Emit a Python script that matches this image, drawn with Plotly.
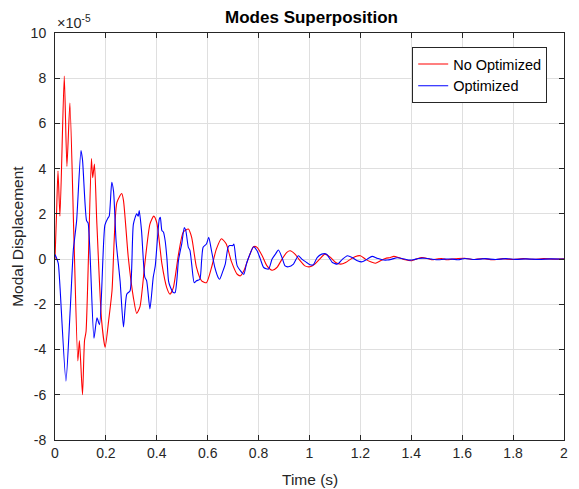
import plotly.graph_objects as go

# Values (displacement in units of 1e-5)
t_no_opt = [0.000, 0.006, 0.0117, 0.0195, 0.0364, 0.0468, 0.0585, 0.074, 0.0897, 0.096,
            0.108, 0.116, 0.122, 0.143, 0.148, 0.155, 0.164, 0.183, 0.197, 0.211,
            0.224, 0.243, 0.262, 0.269, 0.288, 0.308, 0.321, 0.334, 0.353, 0.373,
            0.388, 0.400, 0.420, 0.439, 0.452, 0.465, 0.485, 0.504, 0.524, 0.537,
            0.556, 0.576, 0.595, 0.615, 0.634, 0.654, 0.673, 0.693, 0.716, 0.729,
            0.742, 0.761, 0.780, 0.794, 0.814, 0.833, 0.853, 0.872, 0.892, 0.911,
            0.924, 0.943, 0.963, 0.982, 1.002, 1.021, 1.040, 1.060, 1.080, 1.103,
            1.123, 1.142, 1.162, 1.181, 1.200, 1.220, 1.240, 1.259, 1.279, 1.298,
            1.318, 1.331, 1.350, 1.376, 1.402, 1.420, 1.441, 1.460, 1.480, 1.500,
            1.519, 1.540, 1.560, 1.584, 1.610, 1.640, 1.680, 1.720, 1.760, 1.800,
            1.840, 1.880, 1.920, 1.960, 2.000]
y_no_opt = [0.0, 2.0, 3.9, 1.9, 8.1, 4.1, 6.9, 1.1, -4.5, -3.6,
            -6.0, -3.6, -3.2, 4.45, 3.6, 4.2, 1.7, -2.7, -3.9, -2.7,
            -1.4, 2.5, 2.9, 2.6, 0.07, -1.7, -2.4, -2.1, -0.2, 1.55,
            1.9, 1.6, -0.2, -1.26, -1.55, -1.26, 0.2, 1.2, 1.33, 0.96,
            -0.37, -0.96, -1.04, -0.37, 0.44, 0.9, 0.67, -0.1, -0.67, -0.74,
            -0.52, 0.07, 0.55, 0.52, 0.15, -0.3, -0.49, -0.37, 0.0, 0.3,
            0.37, 0.22, -0.07, -0.3, -0.34, -0.22, 0.0, 0.22, 0.1, -0.15,
            -0.22, -0.15, 0.0, 0.12, 0.15, 0.0, -0.12, -0.18, -0.07, 0.03,
            0.07, 0.12, 0.07, -0.03, -0.07, 0.0, 0.07, 0.04, -0.03, 0.0,
            0.03, -0.03, 0.0, 0.03, 0.04, -0.02, 0.03, -0.03, 0.02, -0.02,
            0.02, -0.01, 0.02, 0.0, 0.01]

t_opt = [0.000, 0.006, 0.013, 0.0195, 0.043, 0.059, 0.072, 0.077, 0.085, 0.102,
         0.108, 0.124, 0.130, 0.153, 0.165, 0.175, 0.196, 0.207, 0.213, 0.223,
         0.230, 0.240, 0.256, 0.269, 0.282, 0.295, 0.308, 0.321, 0.327, 0.331,
         0.340, 0.353, 0.360, 0.373, 0.386, 0.394, 0.410, 0.414, 0.420, 0.426,
         0.433, 0.440, 0.446, 0.452, 0.465, 0.472, 0.485, 0.491, 0.498, 0.508,
         0.514, 0.524, 0.530, 0.537, 0.547, 0.556, 0.569, 0.576, 0.582, 0.595,
         0.604, 0.615, 0.628, 0.641, 0.647, 0.660, 0.669, 0.680, 0.686, 0.699,
         0.703, 0.710, 0.716, 0.729, 0.742, 0.752, 0.761, 0.780, 0.794, 0.807,
         0.820, 0.839, 0.853, 0.866, 0.878, 0.892, 0.904, 0.917, 0.937, 0.956,
         0.970, 0.989, 1.002, 1.015, 1.030, 1.048, 1.067, 1.090, 1.110, 1.130,
         1.149, 1.168, 1.188, 1.207, 1.227, 1.246, 1.266, 1.285, 1.305, 1.324,
         1.344, 1.363, 1.389, 1.408, 1.428, 1.454, 1.480, 1.506, 1.530, 1.560,
         1.584, 1.610, 1.650, 1.690, 1.730, 1.770, 1.810, 1.850, 1.900, 1.950,
         2.000]
y_opt = [0.2, 0.05, -0.2, -1.2, -5.4, -2.4, 0.4, 0.9, 1.7, 4.8,
         4.4, 1.7, 1.6, -3.5, -2.6, -2.9, 1.5, 1.8, 1.9, 3.4,
         3.0, 0.8, -1.0, -3.0, -1.55, -1.4, 1.55, 2.0, 1.9, 2.15,
         1.26, -0.8, -0.95, -2.2, -0.8, -0.3, 1.78, 1.85, 1.26, 1.2,
         0.8, 0.0, -0.96, -1.2, -1.48, -1.48, -0.07, 0.3, 0.67, 1.4,
         1.26, 0.52, 0.4, -0.22, -1.04, -0.96, -0.89, -0.07, 0.52, 0.67,
         0.96, 0.37, -0.37, -0.81, -0.89, -0.52, -0.22, 0.52, 0.6, 0.6,
         0.67, 0.07, -0.3, -0.52, -0.67, -0.22, 0.07, 0.55, 0.37, 0.0,
         -0.37, -0.44, 0.0, 0.22, 0.4, 0.07, -0.3, -0.34, -0.22, 0.15,
         0.0, -0.15, -0.25, -0.25, 0.07, 0.22, 0.22, -0.15, -0.22, 0.0,
         0.15, 0.07, -0.07, -0.12, 0.0, 0.12, 0.04, -0.03, -0.04, 0.0,
         0.06, 0.03, -0.04, -0.03, 0.03, 0.04, 0.0, -0.03, 0.0, 0.0,
         -0.03, 0.03, -0.02, 0.02, -0.02, 0.02, -0.01, 0.01, -0.01, 0.01,
         0.0]

x_ticks = [0, 0.2, 0.4, 0.6, 0.8, 1, 1.2, 1.4, 1.6, 1.8, 2]
y_ticks = [-8, -6, -4, -2, 0, 2, 4, 6, 8, 10]

FONT = "Liberation Sans, Arial, sans-serif"
AX = "#262626"
GRID = "#dfdfdf"

fig = go.Figure()
fig.add_trace(go.Scatter(x=t_no_opt, y=y_no_opt, mode="lines", name="No Optimized",
                         line=dict(color="#ff0000", width=1.1, shape="spline",
                                   smoothing=0.6)))
fig.add_trace(go.Scatter(x=t_opt, y=y_opt, mode="lines", name="Optimized",
                         line=dict(color="#0000ff", width=1.1, shape="spline",
                                   smoothing=0.6)))

axis_common = dict(showline=True, linecolor=AX, linewidth=1, mirror="ticks",
                   ticks="inside", ticklen=5, tickcolor=AX, showgrid=True,
                   gridcolor=GRID, gridwidth=1, zeroline=False,
                   tickfont=dict(family=FONT, size=14, color=AX))

fig.update_xaxes(range=[0, 2], tickvals=x_ticks, ticktext=[f"{v:g}" for v in x_ticks],
                 **axis_common)
fig.update_yaxes(range=[-8, 10], tickvals=y_ticks, ticktext=[f"{v:g}" for v in y_ticks],
                 ticklabelstandoff=5, **axis_common)

fig.update_layout(
    width=579, height=489,
    margin=dict(l=55, r=11, t=33, b=49),
    paper_bgcolor="white", plot_bgcolor="white",
    title=dict(text="<b>Modes Superposition</b>", x=0.538, xanchor="center",
               yref="container", y=1 - 17 / 489, yanchor="middle",
               font=dict(family=FONT, size=17, color="#000000")),
    legend=dict(x=(415 - 55) / 513, y=0.9656, xanchor="left", yanchor="top",
                bgcolor="white", bordercolor=AX, borderwidth=1,
                font=dict(family=FONT, size=14.5, color="#000000"),
                itemwidth=30, tracegroupgap=0),
    showlegend=True,
    annotations=[
        dict(text="Time (s)", xref="paper", yref="paper", x=0.5, y=(440 - 479) / 407,
             xanchor="center", yanchor="middle", showarrow=False,
             font=dict(family=FONT, size=15.5, color=AX)),
        dict(text="Modal Displacement", xref="paper", yref="paper",
             x=(17 - 55) / 513, y=0.5, textangle=-90, xanchor="center",
             yanchor="middle", showarrow=False,
             font=dict(family=FONT, size=15.5, color=AX)),
        dict(text="×10<sup>-5</sup>", xref="paper", yref="paper", x=0, y=1,
             xanchor="left", yanchor="bottom", showarrow=False,
             font=dict(family=FONT, size=14.5, color=AX)),
    ],
)

fig.write_html("out.html", config={"displayModeBar": False},
               post_script="document.body.style.margin='0';document.body.style.padding='0';")
